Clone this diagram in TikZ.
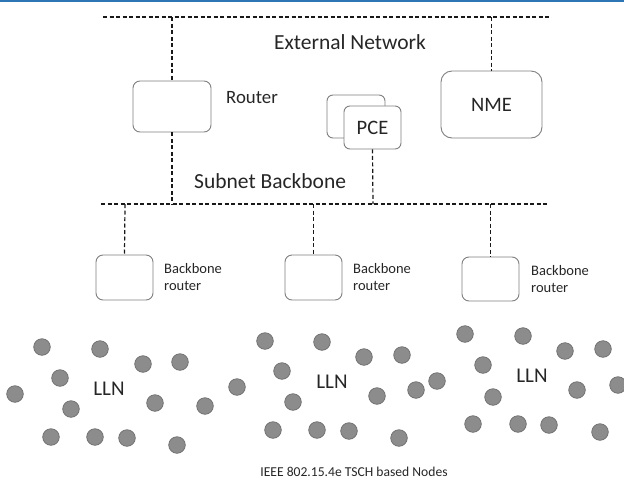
\documentclass[tikz,border=0pt]{standalone}
\usepackage{fontspec}
\setmainfont{Carlito}
\definecolor{boxgray}{HTML}{7F7F7F}
\definecolor{dotfill}{HTML}{8C8C8C}
\definecolor{dotline}{HTML}{6E6E6E}
\definecolor{topblue}{HTML}{2E75B6}
\definecolor{txt}{HTML}{262626}
\begin{document}
\begin{tikzpicture}[x=1pt,y=-1pt,
  box/.style={draw=boxgray, line width=0.9pt, fill=white, inner sep=0pt},
  bus/.style={draw=black!90, line width=1.2pt, dash pattern=on 4pt off 2.5pt},
  dot/.style={circle, draw=dotline, fill=dotfill, line width=0.7pt, minimum size=16.6pt, inner sep=0pt},
  lbl/.style={text=txt, inner sep=0pt},
]
\useasboundingbox (0,0) rectangle (624,480);
\draw[topblue, line width=1.6pt] (0,1) -- (624,1);

% buses
\coordinate (extL) at (103,17);
\coordinate (extR) at (550,17);
\coordinate (subL) at (101,204);
\coordinate (subR) at (547,204);
\draw[bus] (extL) -- (extR);
\draw[bus] (subL) -- (subR);

% boxes
\node[box, rounded corners=7pt, minimum width=78pt, minimum height=51pt] (router) at (172,106.5) {};
\node[box, rounded corners=6pt, minimum width=58pt, minimum height=43pt] (pceback) at (356,116.5) {};
\node[box, rounded corners=6pt, minimum width=57pt, minimum height=43pt, font=\fontsize{20.5}{24}\selectfont, text=txt] (pce) at (372.5,127.5) {PCE};
\node[box, rounded corners=11pt, minimum width=101pt, minimum height=67pt, font=\fontsize{20.5}{24}\selectfont, text=txt] (nme) at (491.5,104.5) {NME};
\node[box, rounded corners=7pt, minimum width=57pt, minimum height=45pt] (bb1) at (124.5,277.5) {};
\node[box, rounded corners=7pt, minimum width=57pt, minimum height=45pt] (bb2) at (313.5,277.5) {};
\node[box, rounded corners=7pt, minimum width=57pt, minimum height=44pt] (bb3) at (490.5,279) {};

% taps
\coordinate (tR) at (172,17);
\coordinate (tN) at (491.5,17);
\coordinate (sR) at (172,204);
\coordinate (sP) at (373,204);
\coordinate (s1) at (125,204);
\coordinate (s2) at (313.5,204);
\coordinate (s3) at (490.5,204);
\draw[bus] (tR) -- (router.north);
\draw[bus] (tN) -- (nme.north);
\draw[bus] (router.south) -- (sR);
\draw[bus] (pce.south) -- (sP);
\draw[bus] (s1) -- (bb1.north);
\draw[bus] (s2) -- (bb2.north);
\draw[bus] (s3) -- (bb3.north);

% labels
\node[lbl, font=\fontsize{21.5}{25}\selectfont] (extlbl) at (350,42) {External Network};
\node[lbl, font=\fontsize{18.8}{22}\selectfont, anchor=west] (routerlbl) at (226,98) {Router};
\node[lbl, font=\fontsize{21.5}{25}\selectfont, anchor=west] (sublbl) at (194,181) {Subnet Backbone};
\foreach \n/\x/\y in {1/164/277.5, 2/353/277.5, 3/531/279.5}{
  \node[lbl, font=\fontsize{14.5}{17}\selectfont, anchor=west, align=left] (bbl\n) at (\x,\y) {Backbone\\router};
}

% LLN dots
\foreach \x/\y [count=\i] in {42/347,100/349,143/364,180/362,60/378,15/394,71/409,155/403,205/406,51/437,95/437,127/438,177/445,
  237/387,
  265/341,322/342,364/357,402/355,282/371,293/402,377/396,416/390,273/430,317/430,349/431,399/438,
  437/381,465/334,523/336,565/351,603/349,483/365,493/397,577/390,618/385,473/424,518/424,549/425,600/432}{
  \node[dot] (d\i) at (\x,\y) {};
}
\node[lbl, font=\fontsize{21}{25}\selectfont] (lln1) at (109,389) {LLN};
\node[lbl, font=\fontsize{21}{25}\selectfont] (lln2) at (332,382) {LLN};
\node[lbl, font=\fontsize{21}{25}\selectfont] (lln3) at (532,376) {LLN};
\node[lbl, font=\fontsize{13.6}{16}\selectfont] (ieee) at (354,472) {IEEE 802.15.4e TSCH based Nodes};
\end{tikzpicture}
\end{document}
